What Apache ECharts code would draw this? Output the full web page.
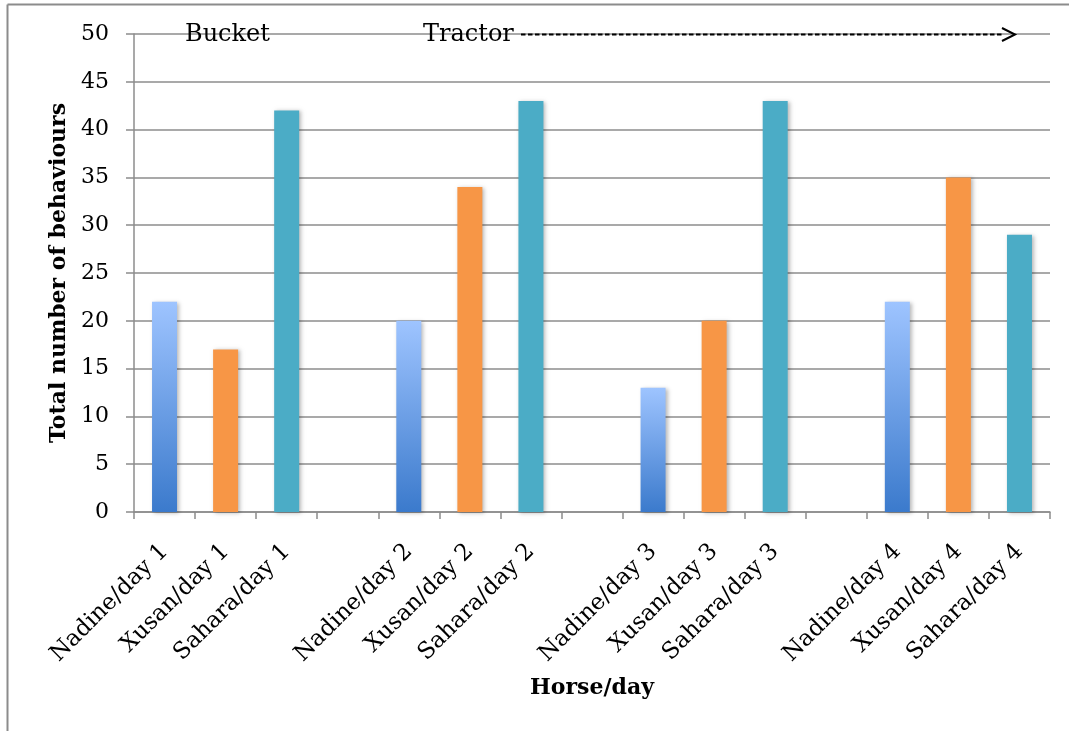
<!DOCTYPE html>
<html>
<head>
<meta charset="utf-8">
<script src="https://cdn.jsdelivr.net/npm/echarts@6/dist/echarts.min.js"></script>
<style>
  html, body { margin: 0; padding: 0; background: #fff; }
  #chart { width: 1069px; height: 731px; }
</style>
</head>
<body>
<div id="chart"></div>
<script>
// Horse/day categories, with blank slots separating the four days
const categories = [
  'Nadine/day 1', 'Xusan/day 1', 'Sahara/day 1', '',
  'Nadine/day 2', 'Xusan/day 2', 'Sahara/day 2', ' ',
  'Nadine/day 3', 'Xusan/day 3', 'Sahara/day 3', '  ',
  'Nadine/day 4', 'Xusan/day 4', 'Sahara/day 4'
];
// Total number of behaviours per horse for days 1-4
const nadine = [22, 20, 13, 22];
const xusan = [17, 34, 20, 35];
const sahara = [42, 43, 43, 29];
const yTicks = { min: 0, max: 50, interval: 5 };

// place each horse's four values into its slot of every day group
function spread(values, offset) {
  const out = categories.map(() => '-');
  values.forEach((v, d) => { out[d * 4 + offset] = v; });
  return out;
}

const FONT = 'DejaVu Serif';
const GREY = '#8c8c8c';
const shadow = {
  shadowColor: 'rgba(0,0,0,0.28)',
  shadowBlur: 4,
  shadowOffsetX: 2,
  shadowOffsetY: 1
};

const chart = echarts.init(document.getElementById('chart'), null, { renderer: 'canvas' });

chart.setOption({
  animation: false,
  backgroundColor: '#fff',
  grid: { left: 134, right: 19, top: 34, bottom: 219, containLabel: false },
  xAxis: {
    type: 'category',
    data: categories,
    boundaryGap: true,
    name: 'Horse/day',
    nameLocation: 'middle',
    nameGap: 165,
    nameTextStyle: { fontFamily: FONT, fontSize: 22, fontWeight: 'bold', color: '#000' },
    axisLine: { lineStyle: { color: GREY, width: 1.5 } },
    axisTick: { show: true, length: 7, interval: 0, lineStyle: { color: GREY, width: 1.5 } },
    axisLabel: {
      interval: 0, rotate: 45, margin: 36,
      fontFamily: FONT, fontSize: 23, color: '#000'
    },
    splitLine: { show: false }
  },
  yAxis: {
    type: 'value',
    min: yTicks.min, max: yTicks.max, interval: yTicks.interval,
    name: 'Total number of behaviours',
    nameLocation: 'middle',
    nameGap: 64,
    nameTextStyle: { fontFamily: FONT, fontSize: 22, fontWeight: 'bold', color: '#000' },
    axisLine: { show: true, lineStyle: { color: GREY, width: 1.5 } },
    axisTick: { show: true, inside: false, length: 8, lineStyle: { color: GREY, width: 1.5 } },
    axisLabel: { margin: 25, fontFamily: FONT, fontSize: 22, color: '#000' },
    splitLine: { show: true, lineStyle: { color: GREY, width: 1.5 } }
  },
  series: [
    {
      name: 'Nadine', type: 'bar', stack: 'horse', barWidth: 25,
      data: spread(nadine, 0),
      itemStyle: Object.assign({
        color: new echarts.graphic.LinearGradient(0, 0, 0, 1, [
          { offset: 0, color: '#9ec4ff' },
          { offset: 1, color: '#3b7acc' }
        ])
      }, shadow)
    },
    {
      name: 'Xusan', type: 'bar', stack: 'horse', barWidth: 25,
      data: spread(xusan, 1),
      itemStyle: Object.assign({ color: '#f79646' }, shadow)
    },
    {
      name: 'Sahara', type: 'bar', stack: 'horse', barWidth: 25,
      data: spread(sahara, 2),
      itemStyle: Object.assign({ color: '#4bacc6' }, shadow)
    }
  ],
  graphic: [
    // outer frame edges
    { type: 'line', shape: { x1: 7.5, y1: 4.5, x2: 1069, y2: 4.5 }, style: { stroke: GREY, lineWidth: 2 }, silent: true },
    { type: 'line', shape: { x1: 7.5, y1: 4.5, x2: 7.5, y2: 731 }, style: { stroke: GREY, lineWidth: 2 }, silent: true },
    // feeding method labels
    { type: 'text', left: 185, top: 23, style: { text: 'Bucket', font: '24px "DejaVu Serif"', fill: '#000' }, z: 10 },
    { type: 'text', left: 423, top: 23, style: { text: 'Tractor', font: '24px "DejaVu Serif"', fill: '#000' }, z: 10 },
    {
      type: 'line', z: 10,
      shape: { x1: 521, y1: 34.5, x2: 1002, y2: 34.5 },
      style: { stroke: '#000', lineWidth: 2, lineDash: [4.5, 2.5] }
    },
    {
      type: 'polyline', z: 10,
      shape: { points: [[1002, 28], [1015, 34.5], [1002, 41]] },
      style: { stroke: '#000', lineWidth: 2, fill: null }
    }
  ]
});
</script>
</body>
</html>
